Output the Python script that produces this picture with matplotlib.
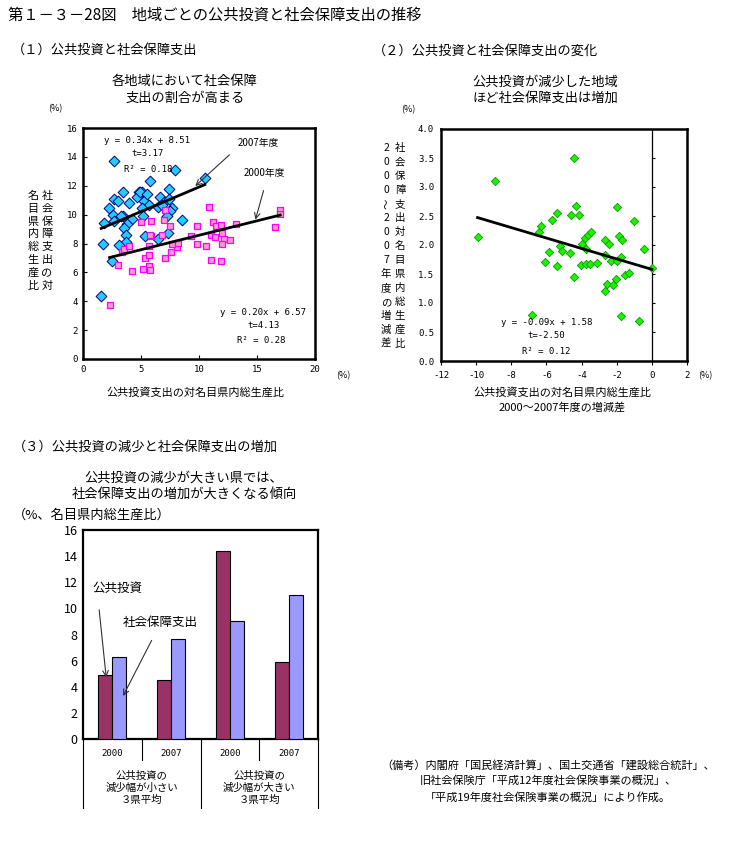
import matplotlib
matplotlib.use("Agg")
from matplotlib import pyplot as plt
import numpy as np

plt.rcParams['font.family'] = ['Noto Sans CJK JP', 'DejaVu Sans']
plt.rcParams['axes.unicode_minus'] = False

W, H = 731, 857
MONO = ['DejaVu Sans Mono', 'Noto Sans CJK JP']

# (1) 2007年度: 公共投資比 (x) と 社会保障比 (y)
x07 = [2.63, 7.94, 10.5, 5.8, 7.43, 3.49, 4.8, 5.09, 2.63, 3.0, 2.23, 4.0, 4.66,
       5.29, 5.71, 6.66, 7.0, 7.43, 6.49, 7.63, 7.51, 7.23, 5.09, 5.14, 2.57, 3.43,
       4.23, 1.77, 2.66, 3.8, 3.57, 3.71, 5.34, 6.49, 7.37, 3.71, 1.71, 3.09, 2.51,
       1.57, 8.54, 4.9, 5.5, 3.3, 6.8]
y07 = [13.74, 13.12, 12.54, 12.33, 11.78, 11.55, 11.55, 11.55, 11.1, 10.92, 10.46,
       10.8, 11.2, 10.97, 10.69, 11.2, 10.9, 11.1, 10.5, 10.46, 10.23, 9.88, 10.46,
       9.88, 10.0, 9.88, 9.72, 9.42, 9.54, 9.38, 9.08, 8.61, 8.5, 8.31, 8.73, 8.08,
       7.99, 7.9, 6.77, 4.39, 9.6, 11.6, 11.4, 9.9, 10.7]
# (1) 2000年度
x00 = [2.29, 3.0, 4.23, 5.14, 5.71, 5.77, 5.34, 5.66, 3.37, 3.57, 4.0, 5.66, 7.06,
       7.57, 8.14, 7.71, 5.86, 6.8, 5.77, 9.29, 9.86, 10.57, 7.49, 5.86, 5.0, 6.94,
       7.06, 9.8, 10.89, 11.23, 11.43, 11.86, 11.0, 11.34, 11.94, 12.14, 12.63, 12.0,
       11.06, 11.86, 13.23, 16.57, 17.0, 17.0, 8.2]
y00 = [3.72, 6.49, 6.07, 6.26, 6.42, 6.14, 7.0, 7.18, 7.39, 7.62, 7.8, 7.8, 7.0,
       7.39, 7.74, 7.99, 8.5, 8.61, 8.61, 8.55, 7.99, 7.85, 9.19, 9.54, 9.47, 9.6,
       10.3, 9.19, 10.5, 9.47, 9.24, 9.31, 8.61, 8.43, 8.73, 8.31, 8.22, 7.94, 6.84,
       6.77, 9.38, 9.14, 10.35, 10.07, 8.05]
fit07 = (0.34, 8.51)
fit00 = (0.20, 6.57)

# (2) 2000～2007年度の増減差
dx = [-9.92, -8.93, -6.83, -6.43, -6.32, -5.71, -5.37, -5.83, -6.1, -5.37, -5.2,
      -5.14, -4.67, -4.58, -4.42, -4.33, -4.16, -4.44, -4.0, -3.78, -3.63, -3.48,
      -3.76, -4.06, -3.76, -3.53, -3.1, -2.68, -2.45, -2.68, -2.68, -2.53, -2.34,
      -2.21, -2.06, -1.98, -1.96, -1.87, -1.68, -1.78, -1.78, -1.51, -1.32, -1.03,
      -0.75, -0.47, 0.0]
dy = [2.14, 3.11, 0.8, 2.23, 2.33, 2.43, 2.56, 1.88, 1.71, 1.64, 1.98, 1.9, 1.87,
      2.51, 3.5, 2.68, 2.51, 1.45, 2.02, 2.12, 2.17, 2.23, 1.93, 1.66, 1.67, 1.67,
      1.69, 2.09, 2.02, 1.82, 1.21, 1.33, 1.73, 1.31, 1.41, 1.73, 2.65, 2.16, 2.09,
      1.79, 0.77, 1.48, 1.52, 2.42, 0.69, 1.93, 1.60]
fit_d = (-0.09, 1.58)

# (3) 3県平均
years = ["2000", "2007", "2000", "2007"]
groups = ["公共投資の\n減少幅が小さい\n３県平均", "公共投資の\n減少幅が大きい\n３県平均"]
koukyou = [4.92, 4.53, 14.37, 5.89]
shakai = [6.27, 7.64, 9.02, 11.0]

fig = plt.figure(figsize=(W / 100, H / 100), dpi=100)


def fx(px):
    return px / W


def fy(py):
    return 1 - py / H


def ftext(px, py, s, **kw):
    fig.text(fx(px), fy(py), s, **kw)


def vcol(px, py0, step, s, size):
    for i, ch in enumerate(s):
        rot = 90 if ch == "～" else 0
        ftext(px, py0 + i * step, ch, fontsize=size, ha="center", va="center", rotation=rot)


ftext(8, 15, "第１－３－28図　地域ごとの公共投資と社会保障支出の推移", fontsize=11, va="center")

# ---------- (1) ----------
ftext(12, 50, "（１）公共投資と社会保障支出", fontsize=9.5, va="center")
ftext(185, 82, "各地域において社会保障", fontsize=9.5, ha="center", va="center")
ftext(185, 98, "支出の割合が高まる", fontsize=9.5, ha="center", va="center")
ftext(55, 109, "(%)", fontsize=6.5, ha="center", va="center")

ax1 = fig.add_axes([fx(83), fy(359), fx(315 - 83), (359 - 128) / H])
ax1.scatter(x07, y07, marker="D", s=30, color="#22CCFF", edgecolors="#000080",
            linewidths=0.7, zorder=3)
ax1.scatter(x00, y00, marker="s", s=21, color="#FF99CC", edgecolors="#FF00FF",
            linewidths=0.9, zorder=3)
lx07 = np.array([min(x07), max(x07)])
lx00 = np.array([min(x00), max(x00)])
ax1.plot(lx07, fit07[0] * lx07 + fit07[1], color="black", lw=2, zorder=4)
ax1.plot(lx00, fit00[0] * lx00 + fit00[1], color="black", lw=2, zorder=4)
ax1.set_xlim(0, 20)
ax1.set_ylim(0, 16)
ax1.set_xticks(range(0, 21, 5))
ax1.set_yticks(range(0, 17, 2))
ax1.tick_params(direction="in", labelsize=6.5, length=3, width=0.8, pad=4,
                labelfontfamily="DejaVu Sans Mono")
for sp in ax1.spines.values():
    sp.set_linewidth(1.8)
ax1.text(5.5, 15.1, "y = 0.34x + 8.51", fontsize=6.5, ha="center", va="center", family=MONO)
ax1.text(5.6, 14.2, "t=3.17", fontsize=6.5, ha="center", va="center", family=MONO)
ax1.text(5.6, 13.1, "R² = 0.18", fontsize=6.5, ha="center", va="center", family=MONO)
ax1.text(15.5, 3.23, "y = 0.20x + 6.57", fontsize=6.5, ha="center", va="center", family=MONO)
ax1.text(15.6, 2.33, "t=4.13", fontsize=6.5, ha="center", va="center", family=MONO)
ax1.text(15.4, 1.29, "R² = 0.28", fontsize=6.5, ha="center", va="center", family=MONO)
ax1.text(15.1, 14.95, "2007年度", fontsize=7, ha="center", va="center")
ax1.text(15.6, 12.9, "2000年度", fontsize=7, ha="center", va="center")
ax1.annotate("", xy=(9.5, 11.85), xytext=(12.8, 14.27),
             arrowprops=dict(arrowstyle="->", color="#333333", lw=0.8))
ax1.annotate("", xy=(14.8, 9.47), xytext=(15.63, 11.85),
             arrowprops=dict(arrowstyle="->", color="#333333", lw=0.8))
vcol(47, 196, 12.8, "社会保障支出の対", 8)
vcol(33, 196, 12.8, "名目県内総生産比", 8)
ftext(195, 392, "公共投資支出の対名目県内総生産比", fontsize=8, ha="center", va="center")
ftext(343, 376, "(%)", fontsize=6.5, ha="center", va="center")

# ---------- (2) ----------
ftext(373, 51, "（２）公共投資と社会保障支出の変化", fontsize=9.5, va="center")
ftext(545, 82, "公共投資が減少した地域", fontsize=9.5, ha="center", va="center")
ftext(545, 98, "ほど社会保障支出は増加", fontsize=9.5, ha="center", va="center")
ftext(408, 110, "(%)", fontsize=6.5, ha="center", va="center")

ax2 = fig.add_axes([fx(441), fy(361), fx(687 - 441), (361 - 129) / H])
ax2.scatter(dx, dy, marker="D", s=18, color="#22EE00", edgecolors="#00A000",
            linewidths=0.6, zorder=3)
lxd = np.array([min(dx), max(dx)])
ax2.plot(lxd, fit_d[0] * lxd + fit_d[1], color="black", lw=2, zorder=4)
ax2.axvline(0, color="black", lw=0.9)
ax2.set_xlim(-12, 2)
ax2.set_ylim(0, 4)
ax2.set_xticks(range(-12, 3, 2))
yt2 = np.arange(0, 4.01, 0.5)
ax2.set_yticks(yt2)
ax2.set_yticklabels(["%.1f" % v for v in yt2])
ax2.tick_params(axis="y", length=0, labelsize=6.5, pad=5, labelfontfamily="DejaVu Sans Mono")
ax2.tick_params(axis="x", direction="out", length=3, width=0.8, labelsize=6.5, pad=4,
                labelfontfamily="DejaVu Sans Mono")
ax2.hlines(yt2[1:-1], 0, 0.18, color="black", lw=0.8)
for sp in ax2.spines.values():
    sp.set_linewidth(1.8)
ax2.text(-6.0, 0.67, "y = -0.09x + 1.58", fontsize=6.5, ha="center", va="center", family=MONO)
ax2.text(-6.0, 0.44, "t=-2.50", fontsize=6.5, ha="center", va="center", family=MONO)
ax2.text(-6.0, 0.16, "R² = 0.12", fontsize=6.5, ha="center", va="center", family=MONO)
vcol(386, 148, 14.0, "2000～2007年度の増減差", 7.5)
vcol(400, 148, 14.0, "社会保障支出対名目県内総生産比", 7.5)
ftext(562, 392, "公共投資支出の対名目県内総生産比", fontsize=8, ha="center", va="center")
ftext(562, 407, "2000～2007年度の増減差", fontsize=8, ha="center", va="center")
ftext(705, 376, "(%)", fontsize=6.5, ha="center", va="center")

# ---------- (3) ----------
ftext(13, 447, "（３）公共投資の減少と社会保障支出の増加", fontsize=9.5, va="center")
ftext(184, 478, "公共投資の減少が大きい県では、", fontsize=9.5, ha="center", va="center")
ftext(184, 494, "社会保障支出の増加が大きくなる傾向", fontsize=9.5, ha="center", va="center")
ftext(13, 515, "（%、名目県内総生産比）", fontsize=9.5, va="center")

ax3 = fig.add_axes([fx(83), fy(739), fx(318 - 83), (739 - 530) / H])
pos = np.arange(len(years))
bw = 0.238
ax3.bar(pos - bw / 2, koukyou, bw, color="#993366", edgecolor="black", lw=0.8, zorder=3)
ax3.bar(pos + bw / 2, shakai, bw, color="#9999FF", edgecolor="black", lw=0.8, zorder=3)
ax3.set_xlim(-0.5, len(years) - 0.5)
ax3.set_ylim(0, 16)
ax3.set_yticks(range(0, 17, 2))
ax3.set_xticks([])
ax3.tick_params(axis="y", direction="in", length=0, labelsize=9, pad=4)
for sp in ax3.spines.values():
    sp.set_linewidth(1.6)
tr = ax3.get_xaxis_transform()
for i, yr in enumerate(years):
    ax3.text(i, -0.068, yr, fontsize=6.5, ha="center", va="center", transform=tr, family=MONO)
for b in np.arange(len(years) + 1) - 0.5:
    deep = int(b + 0.5) % 2 == 0
    ax3.plot([b, b], [0, -0.33 if deep else -0.1], color="black", lw=0.8,
             transform=tr, clip_on=False)
for g, lab in enumerate(groups):
    ax3.text(2 * g + 0.5, -0.235, lab, fontsize=7.5, ha="center", va="center",
             transform=tr, linespacing=1.25)
ax3.text(0.08, 11.5, "公共投資", fontsize=9, ha="center", va="center")
ax3.annotate("", xy=(-0.1, 4.5), xytext=(-0.23, 10.1),
             arrowprops=dict(arrowstyle="->", color="#333333", lw=0.8))
ax3.text(0.82, 8.9, "社会保障支出", fontsize=9, ha="center", va="center")
ax3.annotate("", xy=(0.16, 3.1), xytext=(0.69, 7.74),
             arrowprops=dict(arrowstyle="->", color="#333333", lw=0.8))

ftext(548, 765, "（備考）内閣府「国民経済計算」、国土交通省「建設総合統計」、", fontsize=8, ha="center", va="center")
ftext(548, 781, "旧社会保険庁「平成12年度社会保険事業の概況」、", fontsize=8, ha="center", va="center")
ftext(548, 797, "「平成19年度社会保険事業の概況」により作成。", fontsize=8, ha="center", va="center")

fig.savefig("out.png", dpi=100)
